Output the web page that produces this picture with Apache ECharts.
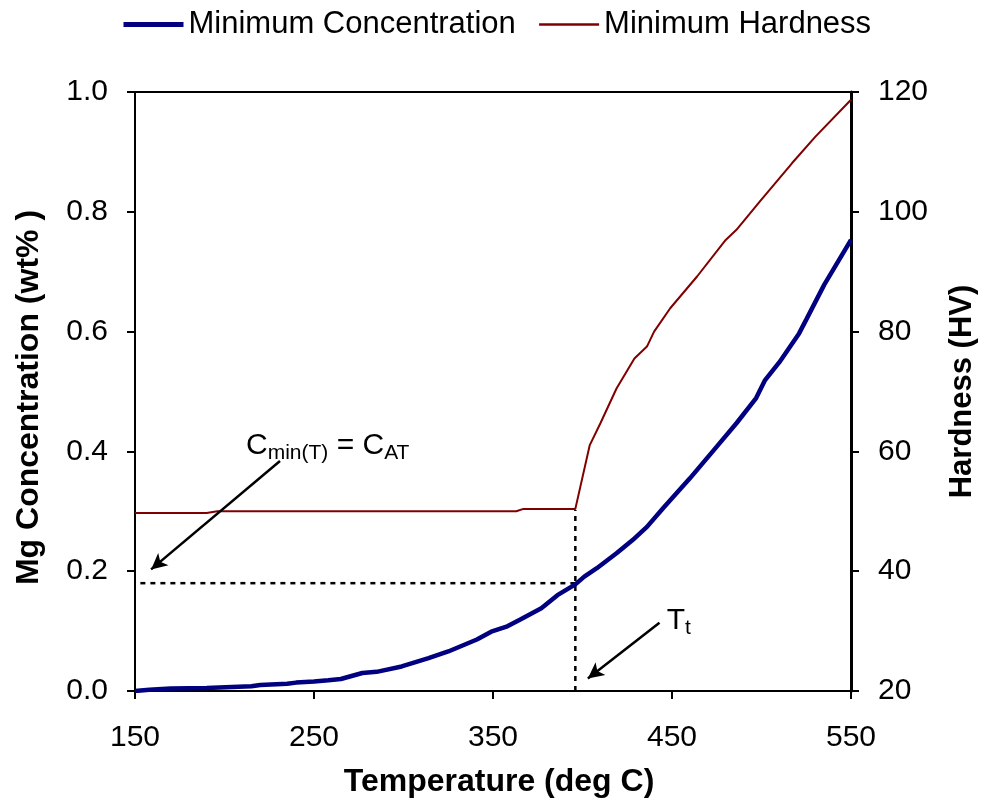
<!DOCTYPE html>
<html>
<head>
<meta charset="utf-8">
<script src="https://cdn.jsdelivr.net/npm/echarts@6/dist/echarts.min.js"></script>
<style>html,body{margin:0;padding:0;background:#fff;overflow:hidden;}#c{width:986px;height:807px;}</style>
</head>
<body>
<div id="c"></div>
<script>
// Temperature (deg C) and Minimum Mg concentration (wt%)
var concTemp = [150,158,170,190,197,215,220,235,240,250,258,265,277,285,299,314,325,341,349,358,365,377,386,396,401,408,419,428,436,445,460,475,486,497,502,510,521,525,535,550];
var concValues = [0.000,0.002,0.004,0.005,0.006,0.008,0.010,0.012,0.014,0.016,0.018,0.020,0.030,0.032,0.041,0.055,0.066,0.086,0.099,0.108,0.119,0.138,0.160,0.178,0.191,0.205,0.230,0.252,0.274,0.305,0.355,0.408,0.447,0.489,0.519,0.549,0.597,0.620,0.678,0.753];
// Temperature (deg C) and Minimum Hardness (HV)
var hardTemp = [150,190,196,363,367,396,404,410,419,429,436,440,449,464,480,486,499,517,530,550];
var hardValues = [49.7,49.7,50.0,50.0,50.4,50.4,61.0,64.7,70.5,75.5,77.5,80.0,83.9,89.2,95.3,97.0,101.7,108.1,112.5,118.7];
// Annotation guide values
var tTransition = 396;
var cAT = 0.18;
var cAtHardnessStep = 0.302;
var xTicks = [150,250,350,450,550];
var leftTicks = [0.0,0.2,0.4,0.6,0.8,1.0];
var rightTicks = [20,40,60,80,100,120];
// Annotation label anchors (data coordinates: temperature, concentration)
var labelCmin = [212, 0.41];
var labelTt = [447, 0.118];

function pairs(xs, ys){ return xs.map(function(x,i){ return [x, ys[i]]; }); }

var FONT = 'Liberation Sans, Arial, sans-serif';
var chart = echarts.init(document.getElementById('c'), null, {renderer:'canvas'});
var subRich = {
  a: {fontSize: 30, lineHeight: 36, fill: '#000', fontFamily: FONT},
  b: {fontSize: 21, lineHeight: 20, verticalAlign: 'bottom', fill: '#000', fontFamily: FONT}
};
chart.setOption({
  animation: false,
  backgroundColor: '#fff',
  textStyle: {fontFamily: FONT, color: '#000'},
  legend: {
    data: [
      {name: 'Minimum Concentration', lineStyle: {width: 5, color: '#000080'}},
      {name: 'Minimum Hardness', lineStyle: {width: 2.5, color: '#800000'}}
    ],
    top: 4, left: 116,
    itemWidth: 60, itemHeight: 14, itemGap: 22,
    itemStyle: {opacity: 0},
    textStyle: {fontSize: 31, color: '#000', fontFamily: FONT}
  },
  grid: {left: 135, right: 130, top: 92, bottom: 116, show: true, borderColor: '#000', borderWidth: 2, backgroundColor: 'transparent'},
  xAxis: {
    type: 'value', min: xTicks[0], max: xTicks[xTicks.length-1], interval: 100,
    name: 'Temperature (deg C)', nameLocation: 'middle', nameGap: 75,
    nameTextStyle: {fontSize: 32, fontWeight: 'bold', color: '#000', fontFamily: FONT, padding: [0,0,0,12]},
    axisLine: {lineStyle: {color: '#000', width: 2}},
    axisTick: {inside: false, length: 8, lineStyle: {color: '#000', width: 2}},
    axisLabel: {fontSize: 30, color: '#000', margin: 32, fontFamily: FONT},
    splitLine: {show: false}
  },
  yAxis: [{
    type: 'value', min: leftTicks[0], max: leftTicks[leftTicks.length-1], interval: 0.2, position: 'left',
    name: 'Mg Concentration (wt% )', nameLocation: 'middle', nameGap: 90,
    nameTextStyle: {fontSize: 32, fontWeight: 'bold', color: '#000', fontFamily: FONT, padding: [0,12,0,0]},
    axisLine: {show: true, lineStyle: {color: '#000', width: 2}},
    axisTick: {show: true, length: 8, lineStyle: {color: '#000', width: 2}},
    axisLabel: {fontSize: 30, color: '#000', margin: 27, fontFamily: FONT, formatter: function(v){ return v.toFixed(1); }},
    splitLine: {show: false}
  },{
    type: 'value', min: rightTicks[0], max: rightTicks[rightTicks.length-1], interval: 20, position: 'right',
    name: 'Hardness (HV)', nameLocation: 'middle', nameGap: 96, nameRotate: 90,
    nameTextStyle: {fontSize: 31, fontWeight: 'bold', color: '#000', fontFamily: FONT},
    axisLine: {show: true, lineStyle: {color: '#000', width: 3}},
    axisTick: {show: true, length: 8, lineStyle: {color: '#000', width: 2}},
    axisLabel: {fontSize: 30, color: '#000', margin: 27, fontFamily: FONT},
    splitLine: {show: false}
  }],
  series: [
    {
      name: 'Minimum Concentration', type: 'line', yAxisIndex: 0, symbol: 'none',
      data: pairs(concTemp, concValues),
      lineStyle: {color: '#000080', width: 4.5}, itemStyle: {color: '#000080'}, z: 5
    },
    {
      name: 'Minimum Hardness', type: 'line', yAxisIndex: 1, symbol: 'none',
      data: pairs(hardTemp, hardValues),
      lineStyle: {color: '#800000', width: 2}, itemStyle: {color: '#800000'}, z: 4
    },
    {
      name: 'guideH', type: 'line', yAxisIndex: 0, symbol: 'none',
      data: [[153, cAT],[tTransition, cAT]],
      lineStyle: {color: '#000', width: 2.5, type: [5,5]}, z: 3
    },
    {
      name: 'guideV', type: 'line', yAxisIndex: 0, symbol: 'none',
      data: [[tTransition, 0],[tTransition, cAtHardnessStep]],
      lineStyle: {color: '#000', width: 2.5, type: [5,5]}, z: 3
    },
    {
      name: 'arrows', type: 'line', yAxisIndex: 0, symbol: 'none', data: [],
      markLine: {
        silent: true, symbol: ['none','arrow'], symbolSize: [12, 16],
        label: {show: false},
        lineStyle: {color: '#000', width: 2.5, type: 'solid'},
        data: [
          [{coord: [231, 0.384]}, {coord: [159, 0.203]}],
          [{coord: [443, 0.114]}, {coord: [403, 0.021]}]
        ]
      },
      z: 6
    }
  ]
});
var p1 = chart.convertToPixel({xAxisIndex: 0, yAxisIndex: 0}, labelCmin);
var p2 = chart.convertToPixel({xAxisIndex: 0, yAxisIndex: 0}, labelTt);
chart.setOption({
  graphic: [
    {type: 'text', x: p1[0], y: p1[1], z: 100, silent: true,
      style: {text: '{a|C}{b|min(T)}{a| = C}{b|AT}', rich: subRich, fill: '#000', align: 'left', verticalAlign: 'middle', font: '30px ' + FONT}},
    {type: 'text', x: p2[0], y: p2[1], z: 100, silent: true,
      style: {text: '{a|T}{b|t}', rich: subRich, fill: '#000', align: 'left', verticalAlign: 'middle', font: '30px ' + FONT}}
  ]
});
</script>
</body>
</html>
